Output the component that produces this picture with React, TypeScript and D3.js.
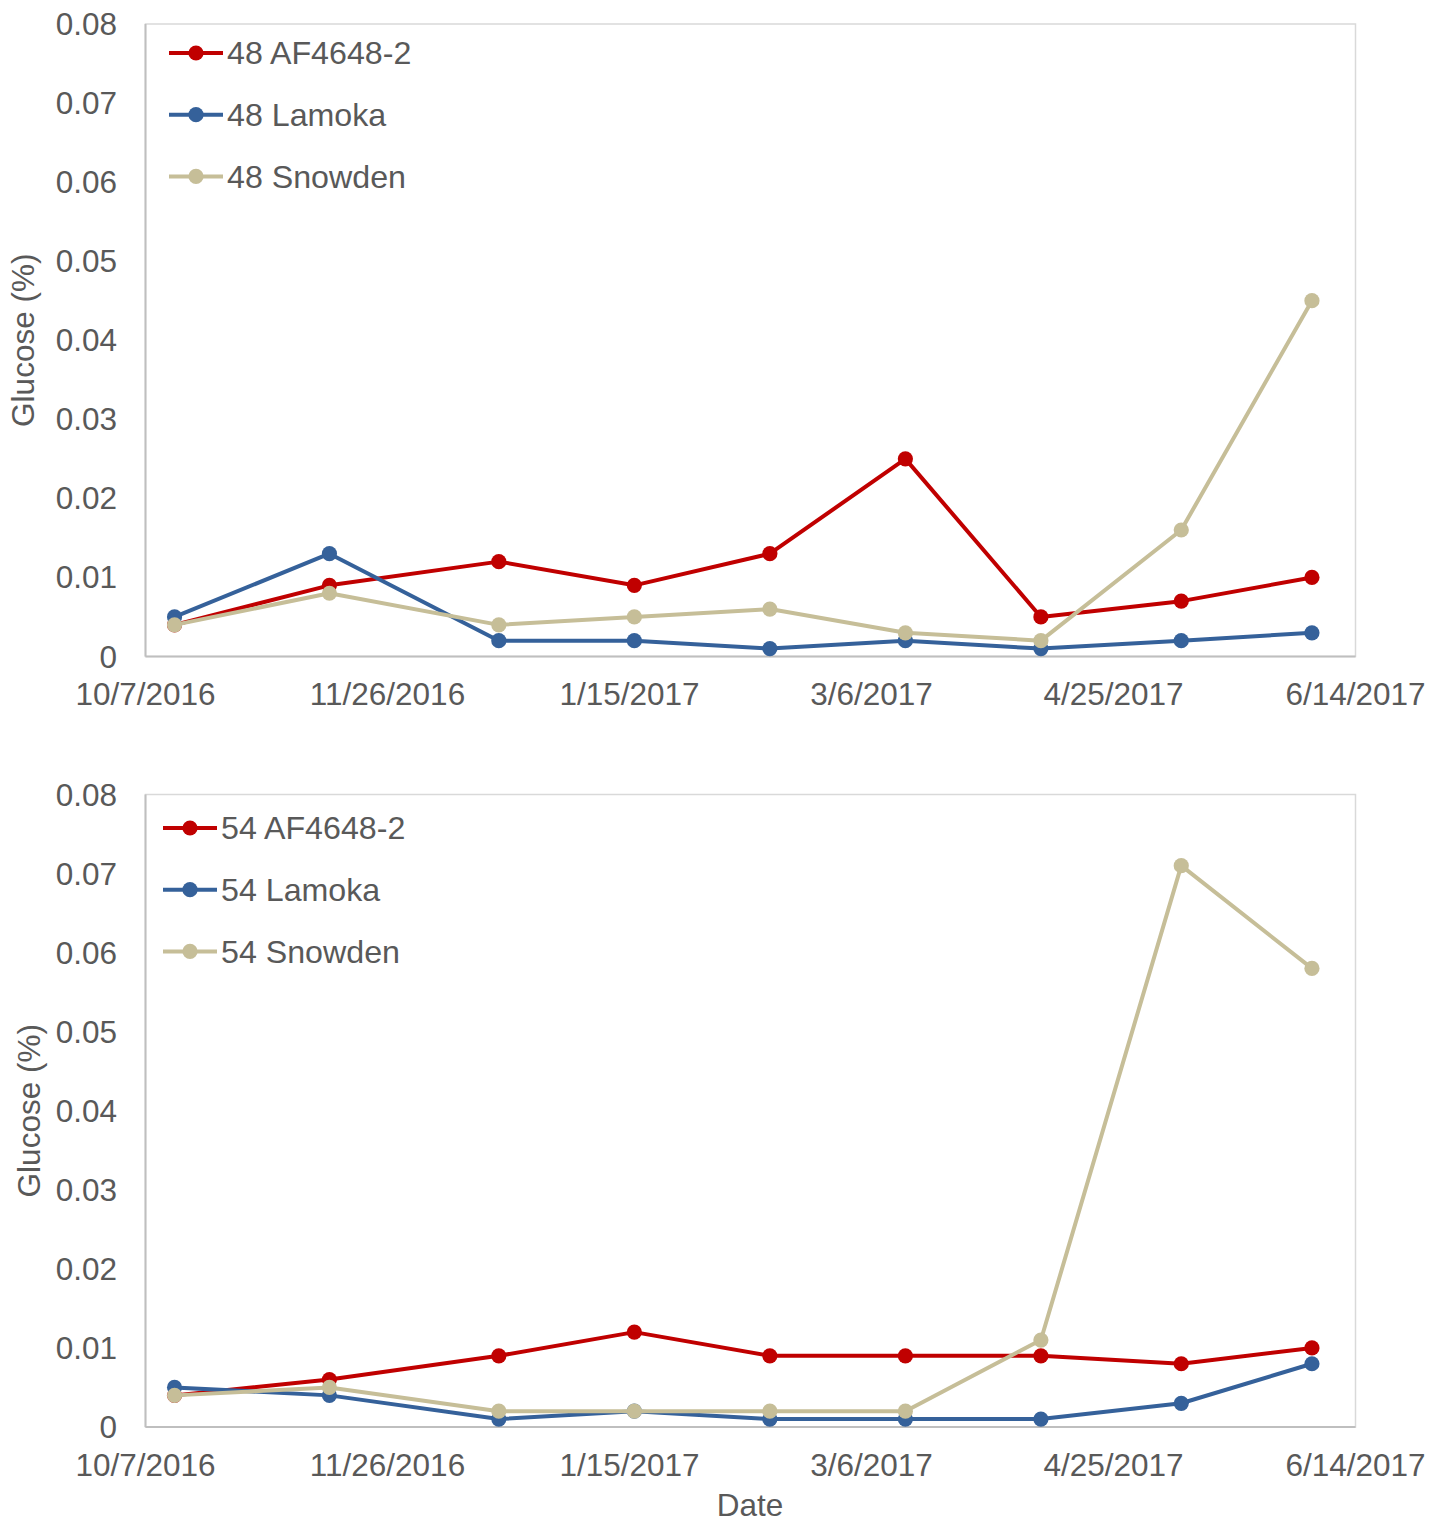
import React from "react";
import * as d3 from "d3";

// Sampling dates shared by both panels
const sampleDates = [
  "2016-10-13", "2016-11-14", "2016-12-19", "2017-01-16", "2017-02-13",
  "2017-03-13", "2017-04-10", "2017-05-09", "2017-06-05",
];

// Axis ticks
const dateTicks = ["2016-10-07", "2016-11-26", "2017-01-15", "2017-03-06", "2017-04-25", "2017-06-14"];
const dateTickLabels = ["10/7/2016", "11/26/2016", "1/15/2017", "3/6/2017", "4/25/2017", "6/14/2017"];
const glucoseTicks = [0, 0.01, 0.02, 0.03, 0.04, 0.05, 0.06, 0.07, 0.08];
const glucoseTickLabels = ["0", "0.01", "0.02", "0.03", "0.04", "0.05", "0.06", "0.07", "0.08"];

// Storage at 48 °F — glucose (%)
const af48 = [0.004, 0.009, 0.012, 0.009, 0.013, 0.025, 0.005, 0.007, 0.010];
const lamoka48 = [0.005, 0.013, 0.002, 0.002, 0.001, 0.002, 0.001, 0.002, 0.003];
const snowden48 = [0.004, 0.008, 0.004, 0.005, 0.006, 0.003, 0.002, 0.016, 0.045];

// Storage at 54 °F — glucose (%)
const af54 = [0.004, 0.006, 0.009, 0.012, 0.009, 0.009, 0.009, 0.008, 0.010];
const lamoka54 = [0.005, 0.004, 0.001, 0.002, 0.001, 0.001, 0.001, 0.003, 0.008];
const snowden54 = [0.004, 0.005, 0.002, 0.002, 0.002, 0.002, 0.011, 0.071, 0.058];

const varieties = ["AF4648-2", "Lamoka", "Snowden"];
const colors = ["#C00000", "#35619A", "#C6BE98"];

const W = 1430;
const H = 1523;
const FONT = "'Liberation Sans', Arial, sans-serif";
const TEXT = "#595959";

const parse = d3.utcParse("%Y-%m-%d");

const xScale = d3
  .scaleUtc()
  .domain([parse("2016-10-07")!, parse("2017-06-14")!])
  .range([145.5, 1355.5]);

interface PanelProps {
  top: number;
  bottom: number;
  prefix: string;
  series: number[][];
  legendX: number;
  legendY: number;
  titleX: number;
  xLabelY: number;
}

function Panel({ top, bottom, prefix, series, legendX, legendY, titleX, xLabelY }: PanelProps) {
  const y = d3.scaleLinear().domain([0, 0.08]).range([bottom, top]);
  const [x0, x1] = xScale.range();
  const dates = sampleDates.map((d) => parse(d)!);
  const line = d3
    .line<number>()
    .x((_, i) => xScale(dates[i]))
    .y((v) => y(v));

  return (
    <g>
      {/* plot frame */}
      <rect x={x0} y={top} width={x1 - x0} height={bottom - top} fill="none" stroke="#D9D9D9" strokeWidth={1.5} />
      <line x1={x0} x2={x0} y1={top} y2={bottom} stroke="#BFBFBF" strokeWidth={2} />
      <line x1={x0} x2={x1} y1={bottom} y2={bottom} stroke="#BFBFBF" strokeWidth={2} />

      {/* y tick labels */}
      {glucoseTicks.map((t, i) => (
        <text key={t} x={117} y={y(t)} dy="0.35em" textAnchor="end" fontSize={31.5} fill={TEXT} fontFamily={FONT}>
          {glucoseTickLabels[i]}
        </text>
      ))}

      {/* x tick labels */}
      {dateTicks.map((d, i) => (
        <text key={d} x={xScale(parse(d)!)} y={xLabelY} textAnchor="middle" fontSize={31.5} fill={TEXT} fontFamily={FONT}>
          {dateTickLabels[i]}
        </text>
      ))}

      {/* y axis title */}
      <text
        transform={`translate(${titleX},${(top + bottom) / 2}) rotate(-90)`}
        textAnchor="middle"
        fontSize={31.5}
        fill={TEXT}
        fontFamily={FONT}
      >
        Glucose (%)
      </text>

      {/* series */}
      {series.map((vals, s) => (
        <g key={s}>
          <path d={line(vals) || ""} fill="none" stroke={colors[s]} strokeWidth={4} strokeLinejoin="round" />
          {vals.map((v, i) => (
            <circle key={i} cx={xScale(dates[i])} cy={y(v)} r={7.6} fill={colors[s]} />
          ))}
        </g>
      ))}

      {/* legend */}
      {varieties.map((name, s) => {
        const ly = legendY + s * 61.7;
        return (
          <g key={name}>
            <line x1={legendX} x2={legendX + 54} y1={ly} y2={ly} stroke={colors[s]} strokeWidth={4} />
            <circle cx={legendX + 27} cy={ly} r={7.6} fill={colors[s]} />
            <text x={legendX + 58} y={ly} dy="0.35em" fontSize={32.2} fill={TEXT} fontFamily={FONT}>
              {`${prefix} ${name}`}
            </text>
          </g>
        );
      })}
    </g>
  );
}

export default function App() {
  return (
    <div style={{ position: "absolute", left: 0, top: 0 }}>
      <svg width={W} height={H} style={{ display: "block", background: "#FFFFFF" }}>
        <rect width={W} height={H} fill="#FFFFFF" />
        <Panel
          top={24}
          bottom={656.5}
          prefix="48"
          series={[af48, lamoka48, snowden48]}
          legendX={169}
          legendY={53}
          titleX={34}
          xLabelY={705}
        />
        <Panel
          top={794.5}
          bottom={1427}
          prefix="54"
          series={[af54, lamoka54, snowden54]}
          legendX={163}
          legendY={828}
          titleX={40}
          xLabelY={1476}
        />
        <text x={750} y={1516} textAnchor="middle" fontSize={31.5} fill={TEXT} fontFamily={FONT}>
          Date
        </text>
      </svg>
    </div>
  );
}
